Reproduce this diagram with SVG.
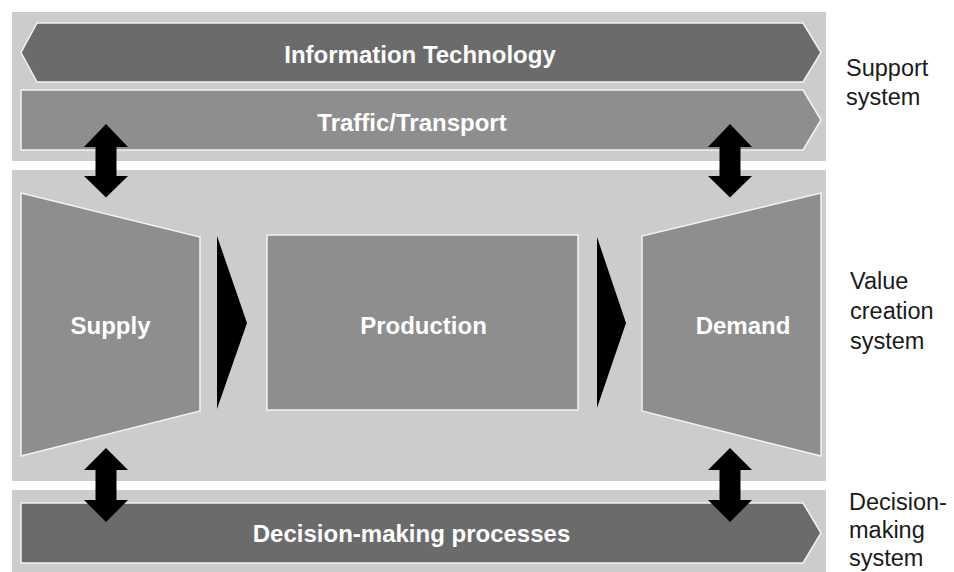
<svg xmlns="http://www.w3.org/2000/svg" width="954" height="572" viewBox="0 0 954 572">
<style>
.panel{fill:#cccccc}
.dark{fill:#6b6b6b;stroke:#f2f2f2;stroke-width:1.5}
.mid{fill:#8e8e8e;stroke:#f2f2f2;stroke-width:1.5}
.lbl{font-family:"Liberation Sans",Arial,sans-serif;font-weight:bold;font-size:24px;fill:#ffffff;text-anchor:middle}
.side{font-family:"Liberation Sans",Arial,sans-serif;font-size:23.5px;fill:#1a1a1a}
.arr{fill:#000000}
</style>
<rect width="954" height="572" fill="#ffffff"/>
<g id="panels">
<rect class="panel" x="12" y="12" width="814" height="149"/>
<rect class="panel" x="12" y="170" width="814" height="311"/>
<rect class="panel" x="12" y="490" width="814" height="90"/>
</g>
<g id="it">
<polygon class="dark" points="37,23 803,23 821,52.5 803,82 37,82 21,52.5"/>
<text class="lbl" x="420" y="63">Information Technology</text>
</g>
<g id="traffic">
<polygon class="mid" points="21,90 803,90 821,120 803,150 21,150"/>
<text class="lbl" x="412" y="131">Traffic/Transport</text>
</g>
<g id="supply">
<polygon class="mid" points="21,193 200,237 200,411 21,456"/>
<text class="lbl" x="110.5" y="334">Supply</text>
</g>
<g id="production">
<rect class="mid" x="267" y="235" width="311" height="175"/>
<text class="lbl" x="423.5" y="334">Production</text>
</g>
<g id="demand">
<polygon class="mid" points="642,236 821,193 821,456 642,411"/>
<text class="lbl" x="743" y="334">Demand</text>
</g>
<g id="decision">
<polygon class="dark" points="21,503 803,503 821,533 803,563 21,563"/>
<text class="lbl" x="411.5" y="542">Decision-making processes</text>
</g>
<g id="connectors">
<polygon class="arr" points="217,236 247,323 217,409"/>
<polygon class="arr" points="597,237 626,323 597,408"/>
<polygon class="arr" points="106,124 128,147 116.5,147 116.5,176 128,176 106,197.5 84,176 95.5,176 95.5,147 84,147"/>
<polygon class="arr" points="730,124 752,147 740.5,147 740.5,176 752,176 730,197.5 708,176 719.5,176 719.5,147 708,147"/>
<polygon class="arr" points="106,448 128,470 116.5,470 116.5,500 128,500 106,522 84,500 95.5,500 95.5,470 84,470"/>
<polygon class="arr" points="730,448 752,470 740.5,470 740.5,500 752,500 730,522 708,500 719.5,500 719.5,470 708,470"/>
</g>
<g id="labels">
<text class="side" x="846" y="76">Support</text>
<text class="side" x="846" y="105">system</text>
<text class="side" x="850" y="289">Value</text>
<text class="side" x="850" y="319">creation</text>
<text class="side" x="850" y="349">system</text>
<text class="side" x="849" y="510">Decision-</text>
<text class="side" x="849" y="538">making</text>
<text class="side" x="849" y="566">system</text>
</g>
</svg>
